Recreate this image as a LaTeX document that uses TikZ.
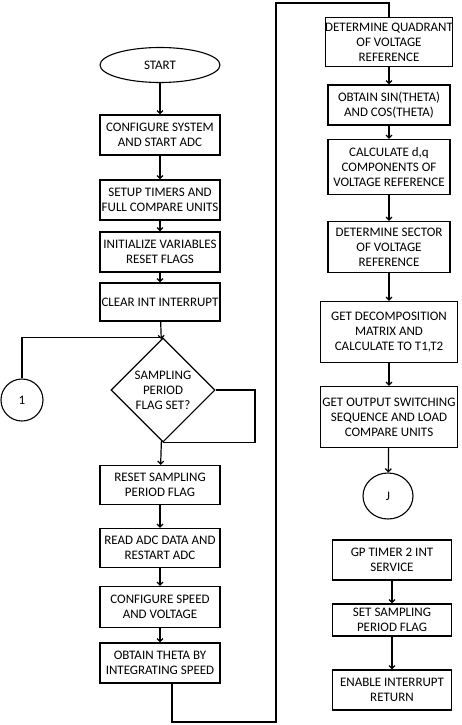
\documentclass[tikz,border=0pt]{standalone}
\usepackage{fontspec}
\setmainfont{Carlito}
\usetikzlibrary{arrows.meta,shapes.geometric}

\begin{document}
\begin{tikzpicture}[x=1pt,y=-1pt]
% ---------------------------------------------------------
% Dimensions (tweak freely)
% ---------------------------------------------------------
\def\LeftX{160}      % centre of left column
\def\RightX{389}     % centre of right column
\def\BoxW{120}       % width of left boxes
\def\WideW{137}      % width of wide right boxes
\def\RouteX{276}     % x of the long return line
\def\RouteBot{722}   % bottom of the long return line
\def\RouteTop{3}     % top of the long return line

% ---------------------------------------------------------
% Styles
% ---------------------------------------------------------
\tikzset{
  box text/.style={font=\fontsize{13}{15}\selectfont},
  step box/.style={draw=black, line width=1.2pt, fill=white, box text,
    minimum width=\BoxW pt, inner sep=0pt, align=center},
  term/.style={ellipse, draw=black, line width=1.1pt, box text,
    minimum width=120pt, minimum height=35pt, inner sep=0pt},
  test/.style={diamond, draw=black, line width=1.1pt, minimum width=104pt,
    minimum height=104pt, inner sep=0pt, align=center, box text},
  joint/.style={circle, draw=black, line width=1.1pt, inner sep=0pt, box text},
  line/.style={line width=1.2pt},
  flow/.style={line width=1.2pt, -{Straight Barb[length=3pt,width=6pt]}}
}

\useasboundingbox (0,0) rectangle (461,725);

% =========================================================
% 1) LEFT COLUMN (main loop)
% =========================================================
\node[term] (start) at (\LeftX,65) {START};
\node[step box, minimum height=40pt] (conf) at (\LeftX,135)
  {CONFIGURE SYSTEM\\AND START ADC};
\node[step box, minimum height=40pt] (setup) at (\LeftX,200)
  {SETUP TIMERS AND\\FULL COMPARE UNITS};
\node[step box, minimum height=40pt] (init) at (\LeftX,252)
  {INITIALIZE VARIABLES\\RESET FLAGS};
\node[step box, minimum height=38pt] (clear) at (\LeftX,302)
  {CLEAR INT INTERRUPT};
\node[test] (check) at (163,390) {SAMPLING\\PERIOD\\FLAG SET?};
\node[joint, minimum size=42pt] (conn1) at (22,400) {1};
\node[step box, minimum height=39pt] (reset) at (\LeftX,485)
  {RESET SAMPLING\\PERIOD FLAG};
\node[step box, minimum height=39pt] (read) at (\LeftX,548)
  {READ ADC DATA AND\\RESTART ADC};
\node[step box, minimum height=41pt] (speed) at (\LeftX,607)
  {CONFIGURE SPEED\\AND VOLTAGE};
\node[step box, minimum height=40pt] (theta) at (\LeftX,663)
  {OBTAIN THETA BY\\INTEGRATING SPEED};

% =========================================================
% 2) RIGHT COLUMN (vector computation + interrupt)
% =========================================================
\node[step box, minimum width=122pt, minimum height=49pt] (quad) at (\RightX,42)
  {DETERMINE QUADRANT\\OF VOLTAGE\\REFERENCE};
\node[step box, minimum width=122pt, minimum height=40pt] (sin) at (\RightX,105)
  {OBTAIN SIN(THETA)\\AND COS(THETA)};
\node[step box, minimum width=122pt, minimum height=55pt] (dq) at (\RightX,167)
  {CALCULATE d,q\\COMPONENTS OF\\VOLTAGE REFERENCE};
\node[step box, minimum width=122pt, minimum height=51pt] (sector) at (\RightX,247)
  {DETERMINE SECTOR\\OF VOLTAGE\\REFERENCE};
\node[step box, minimum width=\WideW pt, minimum height=61pt] (decomp) at (\RightX,332)
  {GET DECOMPOSITION\\MATRIX AND\\CALCULATE TO T1,T2};
\node[step box, minimum width=\WideW pt, minimum height=61pt] (output) at (\RightX,417)
  {GET OUTPUT SWITCHING\\SEQUENCE AND LOAD\\COMPARE UNITS};
\node[joint, ellipse, minimum width=50pt, minimum height=46pt] (connJ) at (388,496) {J};
\node[step box, minimum width=119pt, minimum height=40pt] (gp) at (392,560)
  {GP TIMER 2 INT\\SERVICE};
\node[step box, minimum width=119pt, minimum height=32pt] (setflag) at (392,620)
  {SET SAMPLING\\PERIOD FLAG};
\node[step box, minimum width=119pt, minimum height=40pt] (enable) at (392,690)
  {ENABLE INTERRUPT\\RETURN};

% =========================================================
% 3) CONNECTORS
% =========================================================
\foreach \a/\b in {start/conf, conf/setup, setup/init, init/clear, clear/check,
                   check/reset, reset/read, read/speed, speed/theta,
                   quad/sin, sin/dq, dq/sector, sector/decomp, decomp/output,
                   output/connJ, gp/setflag, setflag/enable}
  \draw[flow] (\a) -- (\b);

% connector 1 joins the top of the test
\draw[line] (conn1.north) |- (check.north);

% wait loop on the flag test
\coordinate (waitR) at (255,390);
\draw[line] (check.east) -- (waitR) |- (check.south);

% long return line to the right column
\coordinate (turnA) at (172,\RouteBot);
\coordinate (turnB) at (\RouteX,\RouteBot);
\coordinate (turnC) at (\RouteX,\RouteTop);
\draw[line] (theta.south -| turnA) -- (turnA) -- (turnB) -- (turnC) -| (quad.north);

\end{tikzpicture}
\end{document}
